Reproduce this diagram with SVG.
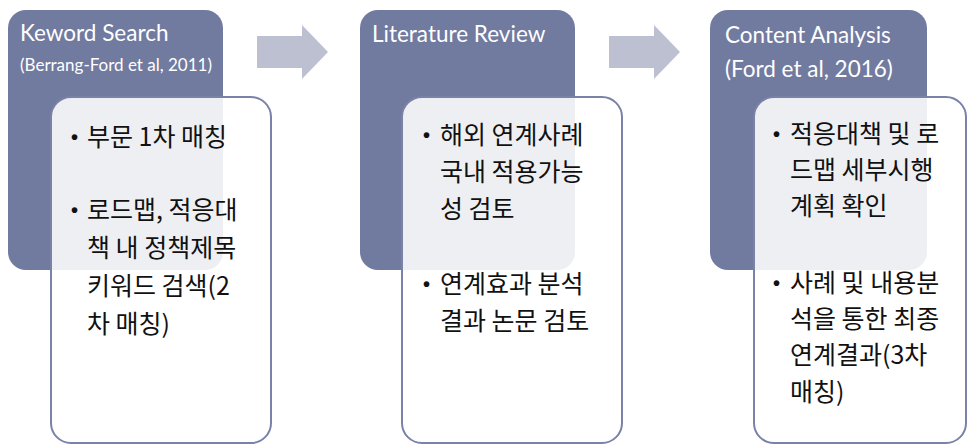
<svg xmlns="http://www.w3.org/2000/svg" width="967" height="446" viewBox="0 0 967 446">
<style>
.dark{fill:#717a9f;}
.card{fill:#ffffff;fill-opacity:0.88;stroke:#7a82a8;stroke-width:2;}
.arrow{fill:#bcc0d0;}
.title{font-family:Lato,"Open Sans","Liberation Sans",sans-serif;fill:#ffffff;font-size:22.5px;}
.sub{font-family:Lato,"Open Sans","Liberation Sans",sans-serif;fill:#ffffff;font-size:17px;}
.body{font-family:"Noto Sans CJK KR","Noto Sans",sans-serif;fill:#111111;font-size:25px;}
.dot{font-family:"Liberation Sans",sans-serif;fill:#111111;font-size:20px;font-weight:bold;}
</style>
<rect width="967" height="446" fill="#ffffff"/>
<g id="connectors">
<polygon class="arrow" points="257,36 302,36 302,25 328,52 302,79 302,68 257,68"/>
<polygon class="arrow" points="609,36 654,36 654,25 680,52 654,79 654,68 609,68"/>
</g>
<g id="node1">
<rect class="dark" x="8" y="10" width="215" height="260" rx="18"/>
<text class="title" x="20" y="41">Keword Search</text>
<text class="sub" x="20" y="71">(Berrang-Ford et al, 2011)</text>
<rect class="card" x="51" y="97" width="220" height="346" rx="20"/>
<text class="dot" x="71" y="144">•</text>
<text class="body" x="87" y="146">부문 1차 매칭</text>
<text class="dot" x="71" y="217">•</text>
<text class="body" x="87" y="219">로드맵, 적응대</text>
<text class="body" x="87" y="257">책 내 정책제목</text>
<text class="body" x="87" y="295">키워드 검색(2</text>
<text class="body" x="87" y="333">차 매칭)</text>
</g>
<g id="node2">
<rect class="dark" x="360" y="10" width="215" height="260" rx="18"/>
<text class="title" x="372" y="42">Literature Review</text>
<rect class="card" x="402" y="97" width="220" height="346" rx="20"/>
<text class="dot" x="423" y="142">•</text>
<text class="body" x="440" y="144">해외 연계사례</text>
<text class="body" x="440" y="181">국내 적용가능</text>
<text class="body" x="440" y="218">성 검토</text>
<text class="dot" x="423" y="291">•</text>
<text class="body" x="440" y="293">연계효과 분석</text>
<text class="body" x="440" y="330">결과 논문 검토</text>
</g>
<g id="node3">
<rect class="dark" x="710" y="10" width="217" height="260" rx="18"/>
<text class="title" x="725" y="43">Content Analysis</text>
<text class="title" x="725" y="77">(Ford et al, 2016)</text>
<rect class="card" x="754" y="97" width="212" height="346" rx="20"/>
<text class="dot" x="773" y="141">•</text>
<text class="body" x="790" y="143">적응대책 및 로</text>
<text class="body" x="790" y="179">드맵 세부시행</text>
<text class="body" x="790" y="215">계획 확인</text>
<text class="dot" x="773" y="290">•</text>
<text class="body" x="790" y="292">사례 및 내용분</text>
<text class="body" x="790" y="328">석을 통한 최종</text>
<text class="body" x="790" y="364">연계결과(3차</text>
<text class="body" x="790" y="401">매칭)</text>
</g>
</svg>
